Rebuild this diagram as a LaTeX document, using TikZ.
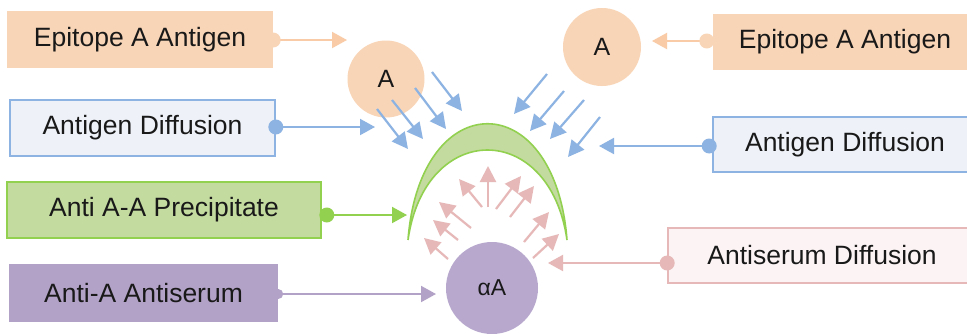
\documentclass[tikz,border=0pt]{standalone}
\usepackage{fontspec}
\setmainfont{Liberation Sans}
\usetikzlibrary{arrows.meta}
\definecolor{peach}{HTML}{F9D5B7}
\definecolor{peachline}{HTML}{F9CBA6}
\definecolor{blueline}{HTML}{8DB3E2}
\definecolor{bluefill}{HTML}{EEF2F8}
\definecolor{greenline}{HTML}{92D050}
\definecolor{greenfill}{HTML}{C4DBA0}
\definecolor{purplefill}{HTML}{B3A2C7}
\definecolor{purplecirc}{HTML}{B8A8CE}
\definecolor{purpleline}{HTML}{B3A2C7}
\definecolor{pinkline}{HTML}{E6B9B8}
\definecolor{pinkfill}{HTML}{FCF4F4}
\tikzset{
  lbl/.style={font=\fontsize{26.5}{30}\selectfont, text=black!90, inner sep=0pt, rectangle},
  peachbox/.style={lbl, fill=peach},
  bluebox/.style={lbl, fill=bluefill, draw=blueline, line width=1.6pt},
  greenbox/.style={lbl, fill=greenfill, draw=greenline, line width=1.6pt},
  purplebox/.style={lbl, fill=purplefill},
  pinkbox/.style={lbl, fill=pinkfill, draw=pinkline, line width=1.6pt},
  circ/.style={circle, inner sep=0pt, font=\fontsize{25}{28}\selectfont, text=black!90},
  conn/.style={line width=2pt, -{Triangle[length=15pt,width=16pt]}},
  small/.style={line width=2.2pt, -{Triangle[length=16pt,width=16pt]}},
}
\begin{document}
\begin{tikzpicture}[x=1pt,y=-1pt]
\path[use as bounding box, clip] (0,0) rectangle (967,333);
\fill[white] (0,0) rectangle (967,333);

% left boxes
\node[peachbox, minimum width=266pt, minimum height=57pt] (epiL) at (140,39.5) {Epitope A Antigen};
\node[bluebox, minimum width=265pt, minimum height=56pt] (difL) at (142.5,128) {Antigen Diffusion};
\node[greenbox, minimum width=314pt, minimum height=56pt] (prec) at (164,210) {Anti A-A Precipitate};
\node[purplebox, minimum width=269pt, minimum height=58pt] (anti) at (143.5,293) {Anti-A Antiserum};

% right boxes
\node[peachbox, minimum width=264pt, minimum height=56pt] (epiR) at (845,42) {Epitope A Antigen};
\node[bluebox, minimum width=264pt, minimum height=55pt] (difR) at (845,144.5) {Antigen Diffusion};
\node[pinkbox, minimum width=308pt, minimum height=55pt] (serum) at (822,255.5) {Antiserum Diffusion};

% circles
\node[circ, fill=peach, minimum size=77pt] (cA1) at (386,79) {A};
\node[circ, fill=peach, minimum size=78pt] (cA2) at (602,47) {A};
\node[circ, fill=purplecirc, minimum size=92pt, font=\fontsize{23}{26}\selectfont] (cAA) at (492,288) {αA};

% crescent
\filldraw[fill=greenfill, draw=greenline, line width=1.6pt]
  (408,240) .. controls (420,85) and (555,85) .. (567,240)
  .. controls (550,120) and (425,120) .. (408,240);

% connector targets
\coordinate (t1) at (347,40);
\coordinate (t2) at (375,127);
\coordinate (t3) at (407,215);
\coordinate (t4) at (436,294);
\coordinate (t5) at (652,41);
\coordinate (t6) at (599,146);
\coordinate (t7) at (548,263);

\coordinate (s1) at (epiL.east |- t1);
\coordinate (s2) at (difL.east |- t2);
\coordinate (s3) at ([xshift=5pt]prec.east |- t3);
\coordinate (s4) at (anti.east |- t4);
\coordinate (s5) at ([xshift=-6pt]epiR.west |- t5);
\coordinate (s6) at ([xshift=-3pt]difR.west |- t6);
\coordinate (s7) at (serum.west |- t7);

\draw[conn, peachline] (s1) -- (t1);
\fill[peach] (s1) circle (7.5pt);
\draw[conn, blueline] (s2) -- (t2);
\fill[blueline] (s2) circle (7.5pt);
\draw[conn, greenline] (s3) -- (t3);
\fill[greenline] (s3) circle (7.5pt);
\draw[conn, purpleline] (s4) -- (t4);
\fill[purplefill] (s4) circle (5pt);
\draw[conn, peachline] (s5) -- (t5);
\fill[peach] (s5) circle (7.5pt);
\draw[conn, blueline] (s6) -- (t6);
\fill[blueline] (s6) circle (7.5pt);
\draw[conn, pinkline] (s7) -- (t7);
\fill[pinkline] (s7) circle (7.5pt);

% blue diffusion arrows (left)
\coordinate (b1a) at (432,72);  \coordinate (b1b) at (462,111);
\coordinate (b2a) at (415,88);  \coordinate (b2b) at (446,129);
\coordinate (b3a) at (392,100); \coordinate (b3b) at (423,139);
\coordinate (b4a) at (377,109); \coordinate (b4b) at (408,149);
% blue diffusion arrows (right)
\coordinate (b5a) at (547,74);  \coordinate (b5b) at (514,114);
\coordinate (b6a) at (564,91);  \coordinate (b6b) at (530,131);
\coordinate (b7a) at (584,100); \coordinate (b7b) at (550,139);
\coordinate (b8a) at (600,117); \coordinate (b8b) at (568,157);
\foreach \i in {1,...,8} \draw[small, blueline] (b\i a) -- (b\i b);

% pink diffusion arrows
\coordinate (p1a) at (448,259); \coordinate (p1b) at (424,238);
\coordinate (p2a) at (458,240); \coordinate (p2b) at (433,220);
\coordinate (p3a) at (471,228); \coordinate (p3b) at (439,202);
\coordinate (p4a) at (482,207); \coordinate (p4b) at (459,179);
\coordinate (p5a) at (488,207); \coordinate (p5b) at (488,166);
\coordinate (p6a) at (496,209); \coordinate (p6b) at (521,176);
\coordinate (p7a) at (510,217); \coordinate (p7b) at (534,186);
\coordinate (p8a) at (524,242); \coordinate (p8b) at (549,212);
\coordinate (p9a) at (533,258); \coordinate (p9b) at (559,234);
\foreach \i in {1,...,9} \draw[small, pinkline] (p\i a) -- (p\i b);
\end{tikzpicture}
\end{document}
